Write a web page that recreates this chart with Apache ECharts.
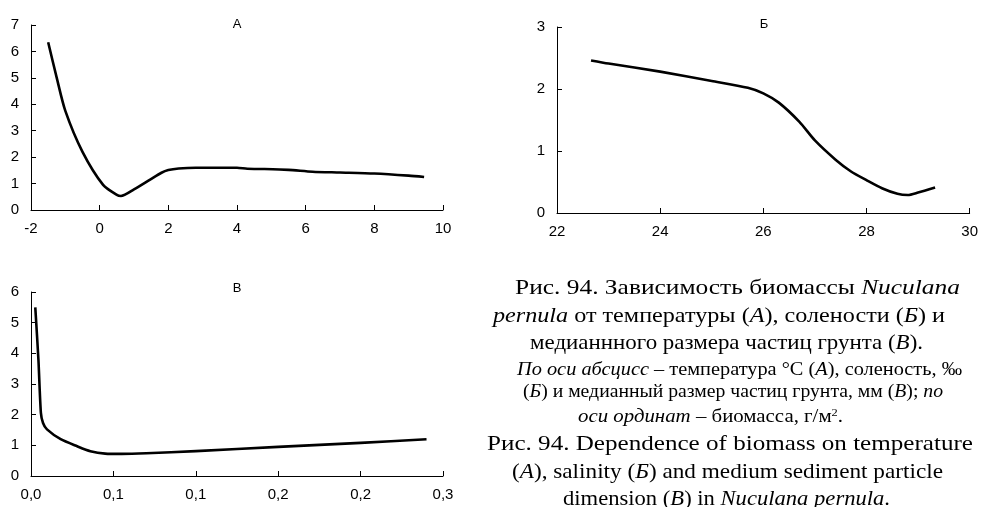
<!DOCTYPE html>
<html>
<head>
<meta charset="utf-8">
<script src="https://cdn.jsdelivr.net/npm/echarts@6/dist/echarts.min.js"></script>
<style>
html,body{margin:0;padding:0;background:#fff;}
#c{width:981px;height:507px;}
</style>
</head>
<body>
<div id="c"></div>
<script>
// ---- Data ----
// Panel А: biomass vs temperature, °C
const tempX = [-1.5, -1.25, -1.0, -0.5, 0.1, 0.5, 0.62, 1.0, 1.47, 1.8, 2.0, 2.3, 2.8, 4.0, 4.3, 4.8, 5.5, 6.2, 7.0, 8.0, 9.0, 9.45];
const tempY = [6.35, 5.0, 3.75, 2.2, 0.95, 0.57, 0.53, 0.78, 1.15, 1.41, 1.51, 1.57, 1.6, 1.6, 1.56, 1.55, 1.52, 1.45, 1.42, 1.38, 1.3, 1.25];
// Panel Б: biomass vs salinity, ‰
const salX = [22.66, 23.0, 24.0, 25.0, 25.7, 26.0, 26.3, 26.7, 27.0, 27.4, 27.7, 28.0, 28.3, 28.6, 28.8, 29.0, 29.33];
const salY = [2.46, 2.41, 2.28, 2.13, 2.02, 1.93, 1.78, 1.47, 1.17, 0.86, 0.67, 0.53, 0.4, 0.31, 0.29, 0.33, 0.41];
// Panel В: biomass vs median sediment particle size, mm
const grainX = [0.0026, 0.0045, 0.006, 0.0073, 0.0097, 0.018, 0.028, 0.036, 0.045, 0.055, 0.07, 0.1, 0.15, 0.2, 0.24];
const grainY = [5.5, 3.8, 2.06, 1.73, 1.52, 1.2, 0.97, 0.81, 0.73, 0.72, 0.74, 0.81, 0.95, 1.08, 1.2];
// Tick labels of panel В x axis (as printed)
const grainTickLabels = ['0,0', '0,1', '0,1', '0,2', '0,2', '0,3'];
const panelTitles = ['А', 'Б', 'В'];

const toPairs = (xs, ys) => xs.map((x, i) => [x, ys[i]]);

const sans = '"Liberation Sans", Arial, sans-serif';
const serifName = 'Liberation Serif';
const serif = '"Liberation Serif", "Times New Roman", serif';

function xAxis(gi, min, max, interval, formatter) {
  return {
    type: 'value', gridIndex: gi, min, max, interval,
    splitLine: { show: false },
    axisLine: { show: true, onZero: false, lineStyle: { color: '#000', width: 1 } },
    axisTick: { show: true, inside: true, length: 5, lineStyle: { color: '#000' } },
    axisLabel: { color: '#000', fontFamily: sans, fontSize: 15, margin: 11, showMinLabel: true, showMaxLabel: true, formatter: formatter }
  };
}
function yAxis(gi, min, max, interval) {
  return {
    type: 'value', gridIndex: gi, min, max, interval,
    splitLine: { show: false },
    axisLine: { show: true, onZero: false, lineStyle: { color: '#000', width: 1 } },
    axisTick: { show: true, inside: true, length: 5, lineStyle: { color: '#000' } },
    axisLabel: { color: '#000', fontFamily: sans, fontSize: 15, margin: 12 }
  };
}
function lineSeries(i, data) {
  return {
    type: 'line', xAxisIndex: i, yAxisIndex: i, data,
    showSymbol: false, symbol: 'none', smooth: 0.25,
    lineStyle: { color: '#000', width: 2.6, join: 'round', cap: 'butt' }, silent: true, animation: false
  };
}

// ---- Caption (rich text lines) ----
const capBig = 22, capSmall = 18.5;
const supScale = 0.6;
const richStyles = (fs) => ({
  i: { fontFamily: serif, fontSize: fs, fontStyle: 'italic', fill: '#000' },
  n: { fontFamily: serif, fontSize: fs, fill: '#000' },
  sup: { fontFamily: serif, fontSize: Math.round(fs * supScale), fill: '#000', verticalAlign: 'top' }
});
// left/right: horizontal extent of each printed line; base: baseline
const captionLines = [
  { fs: capBig, base: 296, left: 515, right: 960, t: '{n|Рис. 94. Зависимость биомассы }{i|Nuculana}' },
  { fs: capBig, base: 323.5, left: 493, right: 945, t: '{i|pernula}{n| от температуры (}{i|А}{n|), солености (}{i|Б}{n|) и}' },
  { fs: capBig, base: 351, left: 530, right: 923, t: '{n|медианнного размера частиц грунта (}{i|В}{n|).}' },
  { fs: capSmall, base: 376.7, left: 517, right: 962, t: '{i|По оси абсцисс}{n| – температура °C (}{i|А}{n|), соленость, ‰}' },
  { fs: capSmall, base: 398.3, left: 523, right: 943, t: '{n|(}{i|Б}{n|) и медианный размер частиц грунта, мм (}{i|В}{n|); }{i|по}' },
  { fs: capSmall, base: 423.3, left: 578, right: 843, t: '{i|оси ординат}{n| – биомасса, г/м}{sup|2}{n|.}' },
  { fs: capBig, base: 451.7, left: 487, right: 973, t: '{n|Рис. 94. Dependence of biomass on temperature}' },
  { fs: capBig, base: 480, left: 512, right: 943, t: '{n|(}{i|A}{n|), salinity (}{i|Б}{n|) and medium sediment particle}' },
  { fs: capBig, base: 506.7, left: 563, right: 890, t: '{n|dimension (}{i|B}{n|) in }{i|Nuculana pernula}{n|.}' }
];

const measureCtx = document.createElement('canvas').getContext('2d');
function naturalWidth(t, fs) {
  let w = 0;
  const re = /\{(\w+)\|([^}]*)\}/g;
  let m;
  while ((m = re.exec(t))) {
    const kind = m[1];
    const size = kind === 'sup' ? Math.round(fs * supScale) : fs;
    measureCtx.font = (kind === 'i' ? 'italic ' : '') + size + 'px "' + serifName + '"';
    w += measureCtx.measureText(m[2]).width;
  }
  return w;
}

const captionGraphics = captionLines.map(l => {
  const w = naturalWidth(l.t, l.fs);
  const sx = (l.right - l.left) / w;
  return {
    type: 'text', x: (l.left + l.right) / 2, y: l.base - l.fs * 0.34, scaleX: sx, silent: true,
    style: {
      text: l.t, rich: richStyles(l.fs), fontFamily: serif, fontSize: l.fs, fill: '#000',
      align: 'center', verticalAlign: 'middle'
    }
  };
});

const chart = echarts.init(document.getElementById('c'), null, { renderer: 'canvas' });
chart.setOption({
  animation: false,
  backgroundColor: '#fff',
  title: [
    { text: panelTitles[0], left: 232, top: 13, textAlign: 'center', textStyle: { fontFamily: sans, fontSize: 13, fontWeight: 'normal', color: '#000' } },
    { text: panelTitles[1], left: 759, top: 13, textAlign: 'center', textStyle: { fontFamily: sans, fontSize: 13, fontWeight: 'normal', color: '#000' } },
    { text: panelTitles[2], left: 232, top: 277, textAlign: 'center', textStyle: { fontFamily: sans, fontSize: 13, fontWeight: 'normal', color: '#000' } }
  ],
  grid: [
    { left: 31, top: 25, width: 412, height: 185 },
    { left: 557, top: 27, width: 416, height: 186 },
    { left: 31, top: 292, width: 412, height: 184 }
  ],
  xAxis: [
    xAxis(0, -2, 10, 2),
    xAxis(1, 22, 30, 2),
    xAxis(2, 0, 0.25, 0.05, (v) => grainTickLabels[Math.round(v / 0.05)])
  ],
  yAxis: [
    yAxis(0, 0, 7, 1),
    yAxis(1, 0, 3, 1),
    yAxis(2, 0, 6, 1)
  ],
  series: [
    lineSeries(0, toPairs(tempX, tempY)),
    lineSeries(1, toPairs(salX, salY)),
    lineSeries(2, toPairs(grainX, grainY))
  ],
  graphic: captionGraphics
});
</script>
</body>
</html>
